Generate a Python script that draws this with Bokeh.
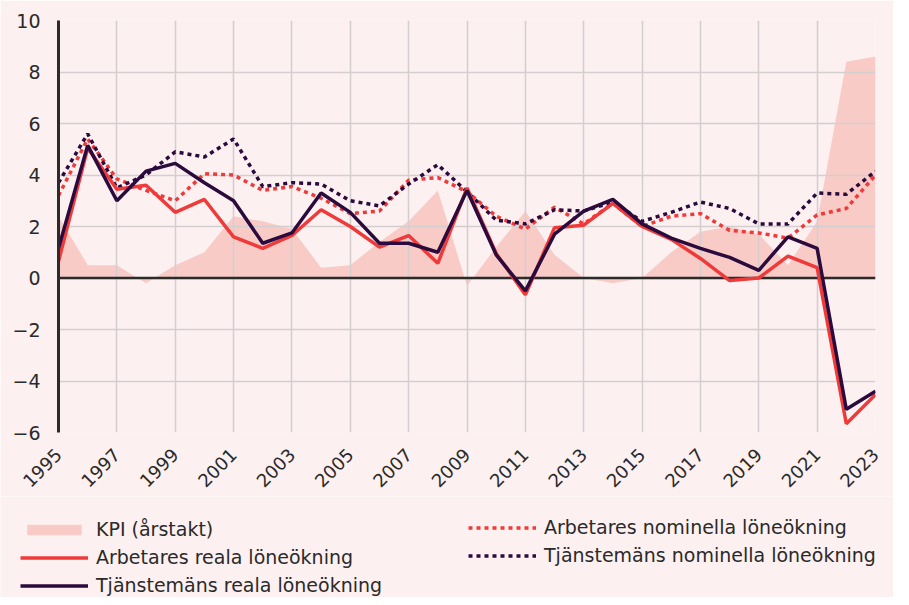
import math
from bokeh.plotting import figure
from bokeh.models import Legend, LegendItem, Span, FixedTicker
from bokeh.embed import file_html
from bokeh.resources import INLINE

years = list(range(1995, 2024))
kpi = [2.4, 0.5, 0.5, -0.2, 0.5, 1.0, 2.4, 2.2, 1.9, 0.4, 0.5, 1.4, 2.2, 3.4, -0.3,
       1.2, 2.6, 0.9, 0.0, -0.2, 0.0, 1.0, 1.8, 2.0, 1.7, 0.5, 2.2, 8.4, 8.6]
arb_nom = [3.2, 5.4, 3.85, 3.4, 3.0, 4.05, 4.0, 3.4, 3.55, 3.1, 2.5, 2.6, 3.8, 3.9, 3.35,
           2.4, 1.9, 2.75, 2.1, 2.9, 2.0, 2.4, 2.5, 1.85, 1.75, 1.55, 2.45, 2.7, 4.0]
tj_nom = [3.7, 5.6, 3.5, 4.0, 4.9, 4.7, 5.4, 3.55, 3.7, 3.65, 3.0, 2.8, 3.65, 4.4, 3.35,
          2.25, 2.1, 2.65, 2.6, 2.95, 2.2, 2.55, 2.95, 2.7, 2.1, 2.1, 3.3, 3.25, 4.15]
arb_real = [0.65, 5.05, 3.45, 3.6, 2.55, 3.05, 1.6, 1.15, 1.65, 2.65, 2.0, 1.2, 1.65, 0.57, 3.5,
            0.95, -0.65, 1.95, 2.05, 2.9, 2.0, 1.5, 0.76, -0.1, 0.0, 0.85, 0.4, -5.66, -4.53]
tj_real = [1.15, 5.15, 3.0, 4.15, 4.45, 3.7, 3.0, 1.35, 1.75, 3.3, 2.55, 1.35, 1.35, 1.0, 3.4,
           0.9, -0.5, 1.7, 2.6, 3.05, 2.1, 1.55, 1.15, 0.8, 0.3, 1.6, 1.15, -5.1, -4.4]

x_ticks = list(range(1995, 2024, 2))
y_ticks = list(range(-6, 11, 2))

labels = {
    "kpi": "KPI (årstakt)",
    "arb_nom": "Arbetares nominella löneökning",
    "arb_real": "Arbetares reala löneökning",
    "tj_nom": "Tjänstemäns nominella löneökning",
    "tj_real": "Tjänstemäns reala löneökning",
}

RED = "#ef3a3a"
DARK = "#2b0a3d"
KPI_C = "#f8cbc7"
BG = "#fdf0f0"
GRID = "#d3cfd1"
TXT = "#2a2a2a"
FONT = "DejaVu Sans"
W = 893
H_MAIN = 496
H_LEG = 101

p = figure(width=W, height=H_MAIN, x_range=(1995, 2023), y_range=(-6, 10),
           output_backend="svg", toolbar_location=None,
           min_border_left=58, min_border_right=W - 875, min_border_top=20,
           min_border_bottom=H_MAIN - 433)
p.background_fill_color = BG
p.border_fill_color = BG
p.outline_line_color = None

p.xaxis.ticker = FixedTicker(ticks=x_ticks)
p.yaxis.ticker = FixedTicker(ticks=y_ticks)
p.xgrid.ticker = FixedTicker(ticks=x_ticks)
p.ygrid.ticker = FixedTicker(ticks=y_ticks)
for g in (p.xgrid, p.ygrid):
    g.grid_line_color = GRID
    g.grid_line_width = 1.5

for ax in (p.xaxis, p.yaxis):
    ax.major_tick_line_color = None
    ax.minor_tick_line_color = None
    ax.major_label_text_font = FONT
    ax.major_label_text_color = TXT
p.xaxis.major_label_text_font_size = "18px"
p.yaxis.major_label_text_font_size = "19px"
p.xaxis.axis_line_color = None
p.xaxis.major_label_orientation = math.pi / 4
p.xaxis.major_label_standoff = 13
p.yaxis.axis_line_color = "#2b2b2b"
p.yaxis.axis_line_width = 3
p.yaxis.major_label_standoff = 12

area = p.varea(x=years, y1=0, y2=kpi, fill_color=KPI_C, level="image")
zero = Span(location=0, dimension="width", line_color="#2b2b2b", line_width=2.5, level="underlay")
p.add_layout(zero)

styles = {
    "arb_nom": dict(line_color=RED, line_width=3.5, line_dash="4 4"),
    "tj_nom": dict(line_color=DARK, line_width=3.5, line_dash="4 4"),
    "arb_real": dict(line_color=RED, line_width=3.5),
    "tj_real": dict(line_color=DARK, line_width=3.5),
}
p.line(years, arb_nom, **styles["arb_nom"])
p.line(years, tj_nom, **styles["tj_nom"])
p.line(years, arb_real, **styles["arb_real"])
p.line(years, tj_real, **styles["tj_real"])

# separate legend panel (its own root, so its frame spans the full width);
# the series are drawn there out of view, only their legend glyphs show
q = figure(width=W, height=H_LEG, x_range=(0, 1), y_range=(100, 101),
           output_backend="svg", toolbar_location=None,
           x_axis_type=None, y_axis_type=None, min_border=0)
q.background_fill_color = BG
q.border_fill_color = BG
q.outline_line_color = None
q.grid.visible = False

lk = q.varea(x=years, y1=0, y2=kpi, fill_color=KPI_C)
l_an = q.line(years, arb_nom, **styles["arb_nom"])
l_tn = q.line(years, tj_nom, **styles["tj_nom"])
l_ar = q.line(years, arb_real, **styles["arb_real"])
l_tr = q.line(years, tj_real, **styles["tj_real"])


def mk_legend(items, loc):
    lg = Legend(items=items, location=loc, orientation="vertical")
    lg.border_line_color = None
    lg.background_fill_alpha = 0
    lg.label_text_font = FONT
    lg.label_text_font_size = "19px"
    lg.label_text_color = TXT
    lg.glyph_width = 68
    lg.glyph_height = 13
    lg.label_height = 13
    lg.label_standoff = 8
    lg.spacing = 6
    lg.padding = 0
    lg.margin = 0
    return lg


leg1 = mk_legend([LegendItem(label=labels["kpi"], renderers=[lk]),
                  LegendItem(label=labels["arb_real"], renderers=[l_ar]),
                  LegendItem(label=labels["tj_real"], renderers=[l_tr])], (20, 1))
leg2 = mk_legend([LegendItem(label=labels["arb_nom"], renderers=[l_an]),
                  LegendItem(label=labels["tj_nom"], renderers=[l_tn])], (468, 31))
q.add_layout(leg1, "center")
q.add_layout(leg2, "center")

open("out.html", "w").write(file_html([p, q], INLINE))
